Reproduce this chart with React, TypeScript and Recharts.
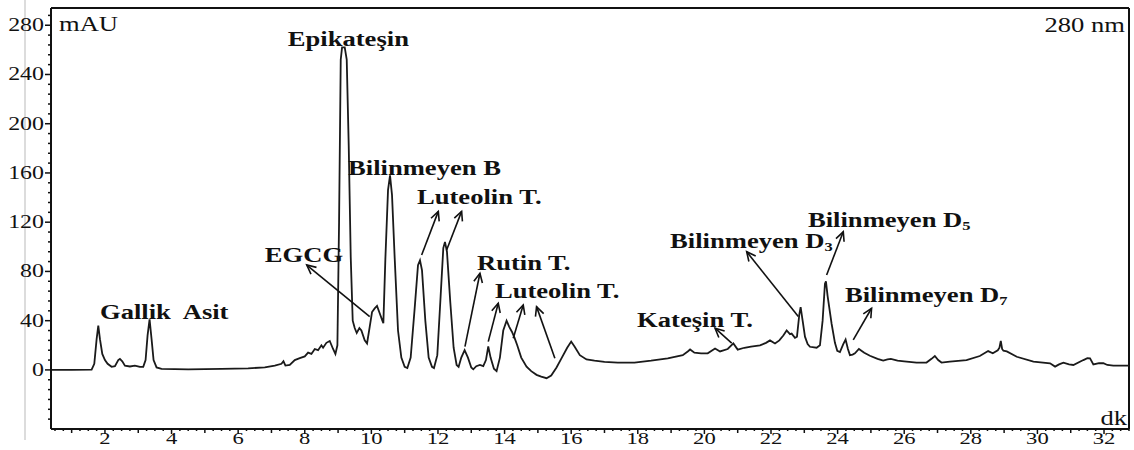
import React from 'react';
import { LineChart, Line, XAxis, YAxis, ReferenceLine, ReferenceDot } from 'recharts';

// Retention time (dk) and absorbance (mAU)
const times = [
  0.38, 1.0, 1.6, 1.68, 1.75, 1.8, 1.85, 1.92, 2.0, 2.08, 2.2, 2.3, 2.4, 2.45, 2.52, 2.6, 2.75, 2.9, 3.05, 3.15,
  3.22, 3.28, 3.34, 3.4, 3.46, 3.55, 3.7, 4.5, 5.5, 6.3, 6.8, 7.1, 7.3, 7.36, 7.42, 7.55, 7.7, 7.85, 8.0, 8.1,
  8.2, 8.3, 8.4, 8.5, 8.55, 8.65, 8.75, 8.85, 8.92, 8.98, 9.03, 9.08, 9.12, 9.2, 9.26, 9.32, 9.38, 9.44, 9.5, 9.56,
  9.64, 9.7, 9.8, 9.87, 9.95, 10.02, 10.1, 10.17, 10.25, 10.33, 10.36, 10.42, 10.5, 10.56, 10.62, 10.7, 10.8, 10.9, 11.0, 11.08,
  11.18, 11.3, 11.4, 11.46, 11.52, 11.62, 11.72, 11.82, 11.88, 11.98, 12.08, 12.16, 12.21, 12.27, 12.37, 12.47, 12.56, 12.62, 12.7, 12.8,
  12.9, 13.0, 13.06, 13.15, 13.26, 13.36, 13.44, 13.51, 13.58, 13.68, 13.76, 13.86, 13.96, 14.06, 14.14, 14.22, 14.3, 14.38, 14.5, 14.66,
  14.8, 14.96, 15.1, 15.26, 15.4, 15.56, 15.72, 15.88, 16.0, 16.1, 16.26, 16.46, 16.7, 17.0, 17.4, 17.9, 18.4, 18.9, 19.35, 19.5,
  19.57, 19.7, 19.9, 20.1, 20.32, 20.47, 20.7, 20.87, 21.0, 21.2, 21.4, 21.67, 21.85, 21.97, 22.12, 22.25, 22.37, 22.47, 22.57, 22.62,
  22.72, 22.78, 22.85, 22.89, 22.95, 23.02, 23.1, 23.17, 23.37, 23.47, 23.55, 23.62, 23.65, 23.7, 23.82, 23.92, 23.99, 24.07, 24.17, 24.24,
  24.31, 24.37, 24.45, 24.52, 24.64, 24.8, 24.97, 25.2, 25.37, 25.5, 25.6, 25.8, 26.0, 26.37, 26.67, 26.82, 26.92, 27.02, 27.12, 27.37,
  27.87, 28.27, 28.52, 28.66, 28.81, 28.86, 28.9, 28.94, 28.98, 29.08, 29.38, 29.88, 30.38, 30.53, 30.65, 30.78, 30.95, 31.08, 31.38, 31.5,
  31.58, 31.68, 31.85, 31.98, 32.1, 32.28, 32.75,
];
const absorbance = [
  0, 0, 0.3, 5, 25, 36, 25, 13, 8, 5, 2.5, 3, 8, 9, 7, 3.5, 2.8, 3.5, 2.5, 2.5,
  8, 28, 41, 25, 8, 2, 0.8, 0.5, 0.8, 1.3, 2, 3.5, 5, 7, 3.5, 4, 8, 9.5, 11, 14,
  13, 17, 16, 20, 18, 22, 23.5, 17, 13, 20, 120, 252, 262, 262, 252, 182, 92, 40, 34, 30,
  34, 32, 24, 21.5, 35, 47, 50, 52, 46, 40, 38, 90, 146, 158, 142, 91, 32, 10, 2.5, 1.5,
  10, 50, 85, 89, 81, 40, 10, 2.5, 1.5, 12, 60, 99, 104, 96, 55, 18, 4, 2.5, 10, 16,
  10, 2, 0.5, 3, 4, 3, 8, 19, 10, 1, -1, 10, 32, 40, 35, 31, 26, 20, 10, 2.7,
  -1, -4, -5.5, -6.7, -4.5, 2, 10, 18, 23, 19, 12, 8.5, 7.5, 6.5, 6, 6, 7.5, 9.4, 12, 15,
  16.6, 14, 13.5, 13.5, 17.4, 15, 17, 21.5, 16.5, 18, 19, 20, 22, 24, 21.5, 24, 28, 32, 29, 29.5,
  26, 27, 45, 51, 40, 27, 21, 18.8, 18, 20, 40, 70, 72, 60, 37.5, 22, 15.5, 14.5, 21, 24.7,
  17, 12, 12.5, 13.5, 17, 14, 11.5, 9, 7.5, 8.5, 9, 7.5, 7, 5.9, 6, 9, 11.3, 8, 6, 6.7,
  8, 11.3, 15.3, 13.5, 16, 18, 23.6, 17, 15.6, 15, 10.7, 6.7, 5.4, 2.7, 4.5, 5.9, 4.5, 4, 8, 9.5,
  9.4, 4.5, 5.5, 5.4, 4, 3.5, 3.5,
];
const data = times.map((t, i) => ({ t, v: absorbance[i] }));

const X_MIN = 0.38;
const X_MAX = 32.75;
const Y_MIN = -48;
const Y_MAX = 294;
const xMajorTicks = [2, 4, 6, 8, 10, 12, 14, 16, 18, 20, 22, 24, 26, 28, 30, 32];
const yMajorTicks = [0, 40, 80, 120, 160, 200, 240, 280];
const xAllTicks = Array.from({ length: 130 }, (_, i) => 0.5 + i * 0.25).filter((v) => v <= X_MAX);
const yAllTicks = Array.from({ length: 42 }, (_, i) => -40 + i * 8).filter((v) => v <= Y_MAX);

// Peak annotations: text, left x (dk), baseline (mAU)
const labelTexts = ['Gallik  Asit', 'Epikateşin', 'EGCG', 'Bilinmeyen B', 'Luteolin T.', 'Rutin T.', 'Luteolin T.', 'Kateşin T.', 'Bilinmeyen D', 'Bilinmeyen D', 'Bilinmeyen D'];
const labelSubs = ['', '', '', '', '', '', '', '', '3', '5', '7'];
const labelT = [1.85, 7.49, 6.8, 9.3, 11.37, 13.17, 13.71, 17.98, 18.97, 23.11, 24.22];
const labelV = [41.4, 263, 87.7, 158.3, 134.7, 81.2, 58.4, 34.9, 99, 116, 55.2];

// Arrows: tail (t, v) -> head (t, v)
const arrowTailT = [9.95, 11.51, 12.26, 12.81, 13.51, 14.26, 15.51, 20.82, 22.82, 23.67, 24.47];
const arrowTailV = [43.3, 93.3, 97.4, 18.9, 23.0, 25.7, 9.5, 21.7, 43.3, 77.1, 24.4];
const arrowHeadT = [8.06, 12.01, 12.71, 13.26, 13.81, 14.56, 14.96, 20.32, 21.27, 24.17, 25.02];
const arrowHeadV = [85.2, 128.8, 128.8, 78.5, 54.2, 52.8, 51.4, 33.9, 96.0, 112.2, 50.1];

const SERIF = '"Liberation Serif", "Times New Roman", serif';
const SX = 1.33;
const INK = '#111';

function XTick(props: any) {
  const { x, y, payload } = props;
  const val = payload.value;
  const isMajor = xMajorTicks.includes(val);
  const isInt = Math.abs(val - Math.round(val)) < 1e-6;
  const len = isMajor ? 5 : isInt ? 4 : 2;
  return (
    <g>
      <line x1={x} x2={x} y1={y} y2={y + len} stroke={INK} strokeWidth={1.5} />
      {isMajor && (
        <text transform={`translate(${x},${y + 15}) scale(${SX},1)`} textAnchor="middle" fontFamily={SERIF} fontSize={17} fill={INK}>
          {val}
        </text>
      )}
    </g>
  );
}

function YTick(props: any) {
  const { x, y, payload } = props;
  const val = payload.value;
  const isMajor = yMajorTicks.includes(val);
  const len = isMajor ? 6 : 3;
  return (
    <g>
      <line x1={x - len} x2={x} y1={y} y2={y} stroke={INK} strokeWidth={1.5} />
      {isMajor && (
        <text transform={`translate(${x - 7},${y + 6}) scale(${SX},1)`} textAnchor="end" fontFamily={SERIF} fontSize={18} fill={INK}>
          {val}
        </text>
      )}
    </g>
  );
}

function makeLabel(text: string, sub: string, bold: boolean, anchor: 'start' | 'end', size: number) {
  return (p: any) => (
    <text
      transform={`translate(${p.cx},${p.cy}) scale(${SX},1)`}
      textAnchor={anchor}
      fontFamily={SERIF}
      fontSize={size}
      fontWeight={bold ? 700 : 400}
      fill={INK}
      style={{ whiteSpace: 'pre' }}
    >
      {text}
      {sub && (
        <tspan fontSize={size * 0.62} dy={3}>
          {sub}
        </tspan>
      )}
    </text>
  );
}

function Arrow(p: any) {
  const { x1, y1, x2, y2 } = p;
  const ang = Math.atan2(y2 - y1, x2 - x1);
  const L = 10;
  const a = 0.45;
  const ax = x2 - L * Math.cos(ang - a);
  const ay = y2 - L * Math.sin(ang - a);
  const bx = x2 - L * Math.cos(ang + a);
  const by = y2 - L * Math.sin(ang + a);
  return (
    <g>
      <line x1={x1} y1={y1} x2={x2} y2={y2} stroke={INK} strokeWidth={1.6} />
      <polyline points={`${ax},${ay} ${x2},${y2} ${bx},${by}`} fill="none" stroke={INK} strokeWidth={1.6} />
    </g>
  );
}

export default function App() {
  return (
    <div style={{ position: 'absolute', left: 0, top: 0, width: 1134, height: 450, background: '#fff' }}>
      <div style={{ position: 'absolute', left: 24, top: 0, width: 2, height: 440, background: '#dcdcdc' }} />
      <LineChart width={1134} height={450} data={data} margin={{ top: 8, right: 5, bottom: 0, left: 0 }}>
        <XAxis
          type="number"
          dataKey="t"
          domain={[X_MIN, X_MAX]}
          allowDataOverflow
          ticks={xAllTicks}
          interval={0}
          height={21}
          tickSize={0}
          tickMargin={0}
          tickLine={false}
          tick={XTick}
          axisLine={{ stroke: INK, strokeWidth: 2 }}
        />
        <YAxis
          type="number"
          domain={[Y_MIN, Y_MAX]}
          allowDataOverflow
          ticks={yAllTicks}
          interval={0}
          width={51}
          tickSize={0}
          tickMargin={0}
          tickLine={false}
          tick={YTick}
          axisLine={{ stroke: INK, strokeWidth: 2 }}
        />
        <ReferenceLine y={Y_MAX} stroke={INK} strokeWidth={2} />
        <ReferenceLine x={X_MAX} stroke={INK} strokeWidth={2} />
        <Line type="linear" dataKey="v" stroke="#1a1a1a" strokeWidth={1.8} dot={false} isAnimationActive={false} />
        {arrowTailT.map((t, i) => (
          <ReferenceLine
            key={`a${i}`}
            segment={[
              { x: t, y: arrowTailV[i] },
              { x: arrowHeadT[i], y: arrowHeadV[i] },
            ]}
            ifOverflow="visible"
            shape={Arrow}
          />
        ))}
        {labelTexts.map((txt, i) => (
          <ReferenceDot key={`l${i}`} x={labelT[i]} y={labelV[i]} r={0} ifOverflow="visible" shape={makeLabel(txt, labelSubs[i], true, 'start', 20)} />
        ))}
        <ReferenceDot x={0.62} y={275.2} r={0} ifOverflow="visible" shape={makeLabel('mAU', '', false, 'start', 20)} />
        <ReferenceDot x={32.63} y={274.4} r={0} ifOverflow="visible" shape={makeLabel('280 nm', '', false, 'end', 20)} />
        <ReferenceDot x={32.69} y={-44.6} r={0} ifOverflow="visible" shape={makeLabel('dk', '', false, 'end', 20)} />
      </LineChart>
    </div>
  );
}
